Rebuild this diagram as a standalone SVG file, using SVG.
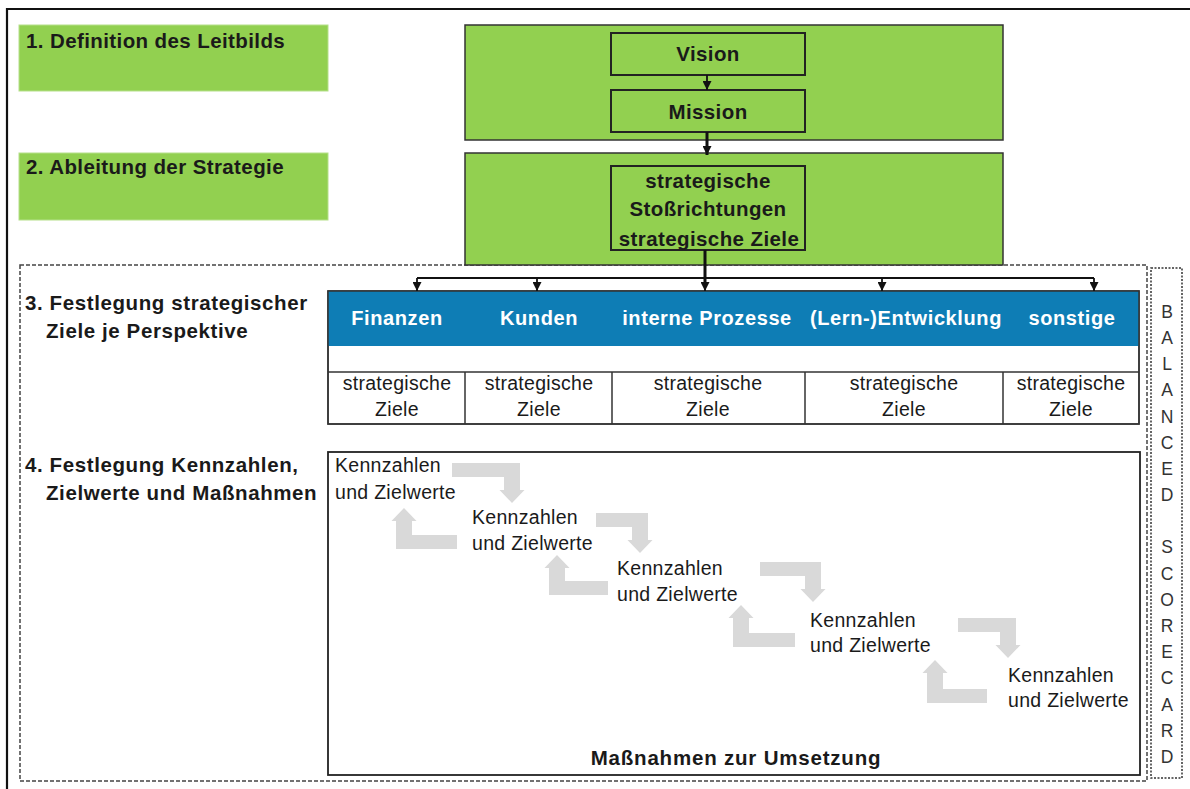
<svg xmlns="http://www.w3.org/2000/svg" width="1190" height="789" viewBox="0 0 1190 789">
  <defs>
    <style>
      .lbl { font-family: "Liberation Sans", Arial, sans-serif; font-weight: bold; font-size: 20.5px; letter-spacing: 0.4px; fill: #1a1a1a; }
      .wide { letter-spacing: 0.6px; }
      .ctr { text-anchor: middle; }
      .hdr { font-family: "Liberation Sans", Arial, sans-serif; font-weight: bold; font-size: 20px; letter-spacing: 0.6px; fill: #ffffff; text-anchor: middle; }
      .reg { font-family: "Liberation Sans", Arial, sans-serif; font-size: 19.5px; letter-spacing: 0.3px; fill: #1a1a1a; }
      .kz { font-family: "Liberation Sans", Arial, sans-serif; font-size: 19.5px; letter-spacing: 0.3px; fill: #1a1a1a; }
      .bsc { font-family: "Liberation Sans", Arial, sans-serif; font-size: 17.5px; fill: #333333; text-anchor: middle; }
      .green { fill: #92D050; stroke: #333333; stroke-width: 1.5; }
      .greenflat { fill: #92D050; stroke: #b5e08a; stroke-width: 1; }
      .inner { fill: #92D050; stroke: #222222; stroke-width: 2; }
      .cell { fill: #ffffff; stroke: #333333; stroke-width: 1.5; }
      .dash { fill: none; stroke: #444444; stroke-width: 1.5; stroke-dasharray: 4 2; }
      .dot { fill: none; stroke: #333333; stroke-width: 1.5; stroke-dasharray: 2 1.5; }
      .bent { fill: #D9D9D9; }
      .line { fill: none; stroke: #111111; stroke-width: 1.8; }
      .thick { fill: none; stroke: #111111; stroke-width: 3; }
    </style>
    <marker id="arr" viewBox="0 0 10 10" refX="10" refY="5" markerWidth="9" markerHeight="9" markerUnits="userSpaceOnUse" orient="auto">
      <path d="M0,0 L10,5 L0,10 Z" fill="#111111"/>
    </marker>
  </defs>

  <rect width="1190" height="789" fill="#ffffff"/>

  <!-- outer frame (continues past the right and bottom edge) -->
  <path d="M7,795 V9 H1195" fill="none" stroke="#111111" stroke-width="2.2"/>

  <!-- balanced scorecard frames -->
  <g id="scorecard-frame">
    <rect class="dash" x="20" y="265" width="1127" height="516"/>
    <rect class="dot" x="1151" y="268" width="31" height="510"/>
  </g>

  <!-- step labels -->
  <g id="step1">
    <rect class="greenflat" x="19" y="25" width="309" height="66"/>
    <text class="lbl" x="26" y="48">1. Definition des Leitbilds</text>
  </g>
  <g id="step2">
    <rect class="greenflat" x="19" y="153" width="309" height="67"/>
    <text class="lbl" x="26" y="174">2. Ableitung der Strategie</text>
  </g>
  <g id="step3">
    <text class="lbl wide" x="25" y="310">3. Festlegung strategischer</text>
    <text class="lbl wide" x="46" y="338">Ziele je Perspektive</text>
  </g>
  <g id="step4">
    <text class="lbl wide" x="25" y="472">4. Festlegung Kennzahlen,</text>
    <text class="lbl wide" x="46" y="500">Zielwerte und Maßnahmen</text>
  </g>

  <!-- Leitbild block -->
  <g id="leitbild">
    <rect class="green" x="465" y="25" width="538" height="115"/>
  </g>
  <g id="vision">
    <rect class="inner" x="611" y="33" width="194" height="42"/>
    <text class="lbl ctr" x="708" y="61">Vision</text>
  </g>
  <g id="mission">
    <rect class="inner" x="611" y="90" width="194" height="42"/>
    <text class="lbl ctr" x="708" y="119">Mission</text>
  </g>

  <!-- Strategie block -->
  <g id="strategie">
    <rect class="green" x="465" y="153" width="538" height="112"/>
  </g>
  <g id="stossrichtungen">
    <rect class="inner" x="611" y="166" width="194" height="84"/>
    <text class="lbl ctr" x="708" y="188">strategische</text>
    <text class="lbl ctr" x="708" y="216">Stoßrichtungen</text>
    <text class="lbl ctr" x="709" y="246">strategische Ziele</text>
  </g>

  <!-- perspectives table -->
  <g id="perspektiven">
    <rect class="cell" x="328" y="291" width="811" height="133"/>
    <rect x="328" y="291" width="811" height="55" fill="#0E7DB5"/>
    <line x1="328" y1="372" x2="1139" y2="372" stroke="#333333" stroke-width="1.5"/>
    <line x1="465" y1="372" x2="465" y2="424" stroke="#333333" stroke-width="1.5"/>
    <line x1="612" y1="372" x2="612" y2="424" stroke="#333333" stroke-width="1.5"/>
    <line x1="805" y1="372" x2="805" y2="424" stroke="#333333" stroke-width="1.5"/>
    <line x1="1003" y1="372" x2="1003" y2="424" stroke="#333333" stroke-width="1.5"/>
    <rect x="328" y="291" width="811" height="133" fill="none" stroke="#333333" stroke-width="1.5"/>
  </g>
  <g id="finanzen">
    <text class="hdr" x="397" y="325">Finanzen</text>
    <text class="reg ctr" x="397" y="390">strategische</text>
    <text class="reg ctr" x="397" y="416">Ziele</text>
  </g>
  <g id="kunden">
    <text class="hdr" x="539" y="325">Kunden</text>
    <text class="reg ctr" x="539" y="390">strategische</text>
    <text class="reg ctr" x="539" y="416">Ziele</text>
  </g>
  <g id="prozesse">
    <text class="hdr" x="707" y="325">interne Prozesse</text>
    <text class="reg ctr" x="708" y="390">strategische</text>
    <text class="reg ctr" x="708" y="416">Ziele</text>
  </g>
  <g id="entwicklung">
    <text class="hdr" x="906" y="325">(Lern-)Entwicklung</text>
    <text class="reg ctr" x="904" y="390">strategische</text>
    <text class="reg ctr" x="904" y="416">Ziele</text>
  </g>
  <g id="sonstige">
    <text class="hdr" x="1072" y="325">sonstige</text>
    <text class="reg ctr" x="1071" y="390">strategische</text>
    <text class="reg ctr" x="1071" y="416">Ziele</text>
  </g>

  <!-- measures panel -->
  <g id="massnahmen">
    <rect x="328" y="452" width="812" height="323" fill="#ffffff" stroke="#222222" stroke-width="1.8"/>
    <text class="lbl ctr" x="736" y="765" style="letter-spacing:0.8px">Maßnahmen zur Umsetzung</text>
  </g>

  <!-- bent cycle arrows between the indicator stages -->
  <g id="zyklus">
    <path class="bent" d="M452,463 H520 V490 H524.5 L512,503 L499.5,490 H504 V477 H452 Z"/>
    <path class="bent" d="M457,549 H396 V521 H391.5 L404,508 L416.5,521 H412 V535 H457 Z"/>
    <path class="bent" d="M596,513 H648 V540 H652.5 L640,553 L627.5,540 H632 V527 H596 Z"/>
    <path class="bent" d="M608,595 H549 V568 H544.5 L557,555 L569.5,568 H565 V581 H608 Z"/>
    <path class="bent" d="M760,562 H821 V589 H825.5 L813,602 L800.5,589 H805 V576 H760 Z"/>
    <path class="bent" d="M795,647 H733 V618 H728.5 L741,605 L753.5,618 H749 V633 H795 Z"/>
    <path class="bent" d="M958,618 H1016 V645 H1020.5 L1008,658 L995.5,645 H1000 V632 H958 Z"/>
    <path class="bent" d="M987,703 H927 V673 H922.5 L935,660 L947.5,673 H943 V689 H987 Z"/>
  </g>

  <!-- indicator stages -->
  <g id="kz1">
    <text class="kz" x="335" y="472">Kennzahlen</text>
    <text class="kz" x="335" y="499">und Zielwerte</text>
  </g>
  <g id="kz2">
    <text class="kz" x="472" y="524">Kennzahlen</text>
    <text class="kz" x="472" y="550">und Zielwerte</text>
  </g>
  <g id="kz3">
    <text class="kz" x="617" y="575">Kennzahlen</text>
    <text class="kz" x="617" y="601">und Zielwerte</text>
  </g>
  <g id="kz4">
    <text class="kz" x="810" y="627">Kennzahlen</text>
    <text class="kz" x="810" y="652">und Zielwerte</text>
  </g>
  <g id="kz5">
    <text class="kz" x="1008" y="682">Kennzahlen</text>
    <text class="kz" x="1008" y="707">und Zielwerte</text>
  </g>

  <!-- vertical caption -->
  <g id="bsc-label">
    <text class="bsc" x="1167" y="318">B</text>
    <text class="bsc" x="1167" y="344">A</text>
    <text class="bsc" x="1167" y="370">L</text>
    <text class="bsc" x="1167" y="396">A</text>
    <text class="bsc" x="1167" y="423">N</text>
    <text class="bsc" x="1167" y="449">C</text>
    <text class="bsc" x="1167" y="475">E</text>
    <text class="bsc" x="1167" y="501">D</text>
    <text class="bsc" x="1167" y="553">S</text>
    <text class="bsc" x="1167" y="580">C</text>
    <text class="bsc" x="1167" y="606">O</text>
    <text class="bsc" x="1167" y="632">R</text>
    <text class="bsc" x="1167" y="658">E</text>
    <text class="bsc" x="1167" y="684">C</text>
    <text class="bsc" x="1167" y="711">A</text>
    <text class="bsc" x="1167" y="737">R</text>
    <text class="bsc" x="1167" y="763">D</text>
  </g>

  <!-- connectors -->
  <g id="connectors">
    <line class="line" x1="707" y1="75" x2="707" y2="90" marker-end="url(#arr)"/>
    <line class="thick" x1="707" y1="132" x2="707" y2="155" marker-end="url(#arr)"/>
    <line class="thick" x1="705" y1="250" x2="705" y2="284"/>
    <line class="line" x1="417" y1="278" x2="1094" y2="278"/>
    <line class="line" x1="417" y1="278" x2="417" y2="291" marker-end="url(#arr)"/>
    <line class="line" x1="537" y1="278" x2="537" y2="291" marker-end="url(#arr)"/>
    <line class="line" x1="705" y1="278" x2="705" y2="291" marker-end="url(#arr)"/>
    <line class="line" x1="882" y1="278" x2="882" y2="291" marker-end="url(#arr)"/>
    <line class="line" x1="1094" y1="278" x2="1094" y2="291" marker-end="url(#arr)"/>
  </g>
</svg>
